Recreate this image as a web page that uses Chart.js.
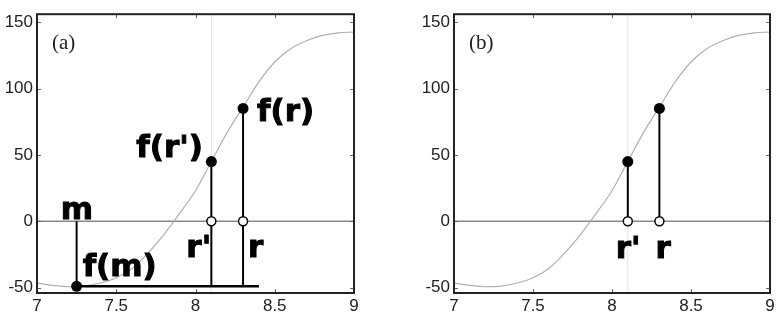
<!DOCTYPE html>
<html lang="en">
<head>
<meta charset="UTF-8">
<title>Bisection figure</title>
<script src="https://cdn.jsdelivr.net/npm/chart.js"></script>
<style>
  html, body { margin: 0; padding: 0; background: #fff; }
  #wrap { position: relative; width: 778px; height: 318px; }
  canvas { position: absolute; top: 0; }
  #chartA { left: 0; }
  #chartB { left: 390px; }
</style>
</head>
<body>
<div id="wrap">
  <canvas id="chartA" width="390" height="318"></canvas>
  <canvas id="chartB" width="388" height="318"></canvas>
</div>
<script>
// curve
const curveX = [7.0, 7.1, 7.2, 7.3, 7.4, 7.5, 7.6, 7.7, 7.8, 7.9, 8.0, 8.1, 8.2, 8.3, 8.4, 8.5, 8.6, 8.7, 8.8, 8.9, 9.0];
const curveY = [-46.5, -48.2, -49.3, -48.8, -46.5, -42.5, -35.5, -24, -10, 6, 23, 45, 67, 86, 105, 120, 130, 136, 140, 142, 142.5];

// marked points
const pointNames = ["m", "r'", "r"];
const pointX = [7.25, 8.1, 8.3];
const pointY = [-49, 45, 85];
const baseLineX = [7.28, 8.40];   // horizontal line at f(m)

const xTicks = [7, 7.5, 8, 8.5, 9];
const yTicks = [-50, 0, 50, 100, 150];
const xRange = [7, 9];
const yRange = [-54, 156];

function curveData() {
  return curveX.map((x, i) => ({ x: x, y: curveY[i] }));
}

// frame, inward ticks and bold labels
function framePlugin(panelName, labels) {
  return {
    id: 'frame',
    afterDraw(chart) {
      const a = chart.chartArea, ctx = chart.ctx;
      const xs = chart.scales.x, ys = chart.scales.y;
      ctx.save();
      ctx.strokeStyle = '#666';
      ctx.lineWidth = 1;
      xTicks.forEach(v => {
        const px = Math.round(xs.getPixelForValue(v)) + 0.5;
        ctx.beginPath();
        ctx.moveTo(px, a.bottom); ctx.lineTo(px, a.bottom - 4);
        ctx.moveTo(px, a.top); ctx.lineTo(px, a.top + 4);
        ctx.stroke();
      });
      yTicks.forEach(v => {
        const py = Math.round(ys.getPixelForValue(v)) + 0.5;
        ctx.beginPath();
        ctx.moveTo(a.left, py); ctx.lineTo(a.left + 4, py);
        ctx.moveTo(a.right, py); ctx.lineTo(a.right - 4, py);
        ctx.stroke();
      });
      ctx.strokeStyle = '#222';
      ctx.lineWidth = 2;
      ctx.strokeRect(a.left, a.top, a.right - a.left, a.bottom - a.top);

      // panel name
      ctx.fillStyle = '#222';
      ctx.font = '21px "Liberation Serif", serif';
      ctx.textBaseline = 'alphabetic';
      ctx.fillText(panelName, a.left + 15, a.top + 35);

      // point labels
      ctx.fillStyle = '#000';
      ctx.font = 'bold 31px "DejaVu Sans", sans-serif';
      ctx.strokeStyle = '#000';
      ctx.lineWidth = 1;
      labels.forEach(l => {
        const px = xs.getPixelForValue(l.x), py = ys.getPixelForValue(l.y);
        ctx.fillText(l.text, px + l.dx, py + l.dy);
        ctx.strokeText(l.text, px + l.dx, py + l.dy);
      });
      ctx.restore();
    }
  };
}

const tickFont = { family: '"Liberation Sans", Arial, sans-serif', size: 17 };

function baseOptions(padLeft, padRight) {
  return {
    responsive: false,
    animation: false,
    layout: { padding: { left: padLeft, right: padRight, top: 5, bottom: 0 } },
    plugins: { legend: { display: false }, tooltip: { enabled: false } },
    scales: {
      x: {
        type: 'linear', min: xRange[0], max: xRange[1],
        grid: { display: false, drawTicks: false }, border: { display: false },
        afterBuildTicks: s => { s.ticks = xTicks.map(v => ({ value: v })); },
        afterFit: s => { s.height = 25; },
        ticks: { color: '#222', padding: 3, font: tickFont, callback: v => String(v) }
      },
      y: {
        type: 'linear', min: yRange[0], max: yRange[1],
        grid: { display: false, drawTicks: false }, border: { display: false },
        afterBuildTicks: s => { s.ticks = yTicks.map(v => ({ value: v })); },
        afterFit: s => { s.width = 37; },
        ticks: { color: '#222', padding: 4, font: tickFont, callback: v => String(v) }
      }
    }
  };
}

function lineSet(data, color, width, order) {
  return { type: 'line', data: data, borderColor: color, borderWidth: width, pointRadius: 0, fill: false, order: order, spanGaps: false };
}

function dotSet(data, open) {
  return {
    type: 'scatter', data: data, order: 0,
    pointRadius: open ? 4.5 : 5.5,
    pointBackgroundColor: open ? '#fff' : '#000',
    pointBorderColor: '#000',
    pointBorderWidth: open ? 1.5 : 0
  };
}

const mX = pointX[0], rpX = pointX[1], rX = pointX[2];
const fm = pointY[0], frp = pointY[1], fr = pointY[2];

// panel (a)
const dataA = {
  datasets: [
    dotSet([{ x: mX, y: fm }, { x: rpX, y: frp }, { x: rX, y: fr }], false),
    dotSet([{ x: rpX, y: 0 }, { x: rX, y: 0 }], true),
    lineSet([{ x: mX, y: 0 }, { x: mX, y: fm }, { x: mX, y: null },
             { x: rpX, y: fm }, { x: rpX, y: frp }, { x: rpX, y: null },
             { x: rX, y: fm }, { x: rX, y: fr }], '#000', 2, 1),
    lineSet([{ x: baseLineX[0], y: fm }, { x: baseLineX[1], y: fm }], '#000', 2.5, 1),
    Object.assign(lineSet(curveData(), '#b0b0b0', 1.2, 3), { cubicInterpolationMode: 'monotone' }),
    lineSet([{ x: xRange[0], y: 0 }, { x: xRange[1], y: 0 }], '#888', 1.5, 4),
    lineSet([{ x: rpX, y: yRange[0] }, { x: rpX, y: yRange[1] }], '#e4e4e4', 1, 5)
  ]
};
const labelsA = [
  { text: pointNames[0], x: mX, y: 0, dx: -16, dy: -2 },
  { text: 'f(' + pointNames[0] + ')', x: mX, y: fm, dx: 6, dy: -10 },
  { text: 'f(' + pointNames[1] + ')', x: rpX, y: frp, dx: -75, dy: -5 },
  { text: 'f(' + pointNames[2] + ')', x: rX, y: fr, dx: 14, dy: 13 },
  { text: pointNames[1], x: rpX, y: 0, dx: -25, dy: 36 },
  { text: pointNames[2], x: rX, y: 0, dx: 5, dy: 36 }
];
new Chart(document.getElementById('chartA'), {
  type: 'scatter', data: dataA, options: baseOptions(0, 36), plugins: [framePlugin('(a)', labelsA)]
});

// panel (b)
const dataB = {
  datasets: [
    dotSet([{ x: rpX, y: frp }, { x: rX, y: fr }], false),
    dotSet([{ x: rpX, y: 0 }, { x: rX, y: 0 }], true),
    lineSet([{ x: rpX, y: 0 }, { x: rpX, y: frp }, { x: rpX, y: null },
             { x: rX, y: 0 }, { x: rX, y: fr }], '#000', 2, 1),
    Object.assign(lineSet(curveData(), '#b0b0b0', 1.2, 3), { cubicInterpolationMode: 'monotone' }),
    lineSet([{ x: xRange[0], y: 0 }, { x: xRange[1], y: 0 }], '#888', 1.5, 4),
    lineSet([{ x: rpX, y: yRange[0] }, { x: rpX, y: yRange[1] }], '#e4e4e4', 1, 5)
  ]
};
const labelsB = [
  { text: pointNames[1], x: rpX, y: 0, dx: -12, dy: 37 },
  { text: pointNames[2], x: rX, y: 0, dx: -4, dy: 37 }
];
new Chart(document.getElementById('chartB'), {
  type: 'scatter', data: dataB, options: baseOptions(27, 8), plugins: [framePlugin('(b)', labelsB)]
});
</script>
</body>
</html>
